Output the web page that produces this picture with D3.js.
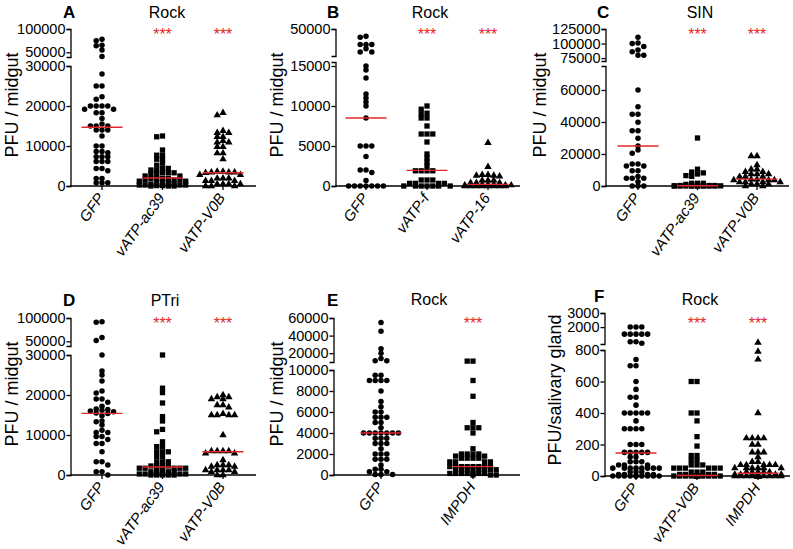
<!DOCTYPE html>
<html><head><meta charset="utf-8">
<script src="https://cdn.jsdelivr.net/npm/d3@7"></script>
<style>
body{margin:0;background:#fff}
svg{display:block}
text{font-family:"Liberation Sans",Arial,Helvetica,sans-serif;fill:#000}
</style>
</head><body>
<svg id="chart" width="793" height="549"></svg>
<script>
// ---------------- DATA ----------------
// Panel A – Rock
const catsA = ["GFP", "vATP-ac39", "vATP-V0B"];
const aGFP = [78000,75000,65000,64000,55000,41000,28000,25000,25000,22300,21700,20000,20000,20000,20000,19200,19200,18300,18300,16900,15500,15000,15000,15000,14000,14000,14000,12500,10000,10000,8600,8600,8300,7300,7300,7300,6100,6100,6100,4400,4400,3800,1900,1900,800,800,800];
const aAc39 = [12500,12300,9000,7700,7700,6700,6700,5700,5200,4400,4400,4000,4000,3300,3300,3300,3000,3000,2500,2500,1900,1900,1900,1900,1500,1500,1500,1200,1200,800,800,800,500,500,250,250,250,250,100,100,0,0,0];
const aV0B = [18300,17700,13800,13300,13300,12300,12300,11300,10900,10900,9800,9800,8200,8200,6700,3600,3600,3400,3400,3400,3300,2800,2800,1900,1900,1900,1300,1300,1300,500,500,500,500,0,0,0];
const medA = [14700, 2000, 3300];
const ticksALow = [0, 10000, 20000, 30000];
const ticksAUp = [50000, 100000];

// Panel B – Rock
const catsB = ["GFP", "vATP-f", "vATP-16"];
const bGFP = [41000,40000,31000,31000,31000,26000,22000,22000,15000,14500,13500,11500,11000,10500,10000,8500,5000,5000,5000,3700,2000,2000,1700,700,0,0,0,0,0,0,0];
const bF = [10000,9600,9100,9000,8500,8500,7500,6500,6500,6500,5500,4000,3500,3000,2500,1900,1900,1900,1900,750,750,750,330,330,330,330,0,0,0,0,0,0,0];
const b16 = [5400,2400,1400,1400,1300,1300,1200,700,700,700,400,400,400,200,200,200,100,100,100,0,0,0,0,0,0,0,0];
const medB = [8500, 1950, 200];
const ticksBLow = [0, 5000, 10000, 15000];
const ticksBUp = [50000];

// Panel C – SIN
const catsC = ["GFP", "vATP-ac39", "vATP-V0B"];
const cGFP = [111000,101000,100000,95000,89000,86000,80000,80000,60000,49600,44800,44800,39800,34600,34600,29800,25000,22500,20400,13700,13700,12500,12500,9600,9600,6000,4800,4800,4800,2700,0,0,0];
const cAc39 = [30000,10500,8700,8200,7500,6500,6000,1700,1700,1700,1000,300,300,300,100,100,100,100,100,0,0,0,0,0,0,0,0];
const cV0B = [18700,18700,13100,10400,10400,8900,8900,7500,7500,7500,5800,5800,5800,4200,4200,3700,3700,3700,2500,2500,2500,2500,1250,1250,1250,0,0];
const medC = [25000, 200, 4300];
const ticksCLow = [0, 20000, 40000, 60000];
const ticksCUp = [75000, 100000, 125000];

// Panel D – PTri
const catsD = ["GFP", "vATP-ac39", "vATP-V0B"];
const dGFP = [92000,91000,58000,52000,30000,26000,25000,23500,21000,20500,19000,19000,18200,17200,16500,16400,16200,16000,15800,15500,15400,14800,13500,13300,12500,11200,10600,10600,9600,9600,8900,7900,7900,5800,3300,3300,2500,800,800,0];
const dAc39 = [30000,21700,20600,18000,14600,13500,11400,10800,8300,7100,7100,5800,5800,5800,4600,4600,3300,3300,3300,2250,2250,2250,2250,1700,1700,1700,1700,1700,1700,1700,800,800,800,800,800,250,250,250,250,250,250,0,0,0,0,0];
const dV0B = [20000,19500,19500,19000,19000,17500,17500,16900,15300,15000,15000,15000,15000,10000,6000,6000,6000,6000,5400,5400,3750,2500,2500,2500,2100,2100,1250,1250,1250,1250,800,800,0,0];
const medD = [15400, 2000, 5800];
const ticksDLow = [0, 10000, 20000, 30000];
const ticksDUp = [50000, 100000];

// Panel E – Rock
const catsE = ["GFP", "IMPDH"];
const eGFP = [55000,45000,25000,20000,14000,11500,11500,9500,9500,9000,9000,9000,9000,8000,7000,6500,6000,6000,5500,5500,5500,5000,5000,4500,4000,4000,4000,4000,4000,4000,4000,3500,3500,3500,3000,3000,3000,2500,2000,2000,2000,1500,1500,1500,950,550,550,300,300,50,50,50];
const eIMPDH = [11000,11000,9000,7500,5000,4500,4500,4500,4000,2500,2000,2000,2000,2000,1800,1800,1600,1600,1600,1600,1250,1250,1250,1250,800,800,800,800,800,800,800,800,500,500,500,500,500,500,500,500,150,150,150,150,150,150,150,0,0,0];
const medE = [4000, 800];
const ticksELow = [0, 2000, 4000, 6000, 8000, 10000];
const ticksEUp = [20000, 40000, 60000];

// Panel F – Rock (salivary gland)
const catsF = ["GFP", "vATP-V0B", "IMPDH"];
const fGFP = [2000,2000,2000,1500,1500,1500,1500,1500,960,960,850,740,700,700,600,550,500,500,450,400,400,400,400,400,350,300,300,300,300,200,200,200,150,150,150,150,150,120,120,90,90,90,70,70,70,50,50,50,50,50,50,50,50,25,25,25,10,10,10,10,0,0,0,0,0,0,0,0,0,0];
const fV0B = [600,600,400,400,350,250,190,130,130,100,100,70,70,70,50,50,50,50,50,50,25,25,25,10,10,10,10,0,0,0,0,0,0,0,0,0,0,0,0,0,0,0,0,0,0,0,0];
const fIMPDH = [900,790,740,400,240,240,240,240,200,200,150,150,150,120,90,90,70,70,70,70,70,50,50,50,50,50,50,25,25,25,25,25,10,10,10,10,10,10,0,0,0,0,0,0,0,0,0,0,0,0,0,0,0,0,0,0,0,0];
const medF = [146, 3, 17];
const ticksFLow = [0, 200, 400, 600, 800];
const ticksFUp = [2000, 3000];

// ---------------- LAYOUT ----------------
const RED = "#e3262b";
const panels = [
  {letter:"A", title:"Rock", ylabel:"PFU / midgut", cats:catsA, series:[aGFP,aAc39,aV0B], shapes:[0,1,2], med:medA, stars:[0,1,1],
   ax:70.5, x1:256, cr:[102,223], low:[0,30000], lowR:[186,66], up:[40000,100000], upR:[57,29], tl:ticksALow, tu:ticksAUp,
   titleX:167, top:0, titleY:18, letterX:63, letterY:18, labelX:18, labelY:105},
  {letter:"B", title:"Rock", ylabel:"PFU / midgut", cats:catsB, series:[bGFP,bF,b16], shapes:[0,1,2], med:medB, stars:[0,1,1],
   ax:335.5, x1:520, cr:[366,488], low:[0,15500], lowR:[186,62], up:[17000,50000], upR:[56,29], tl:ticksBLow, tu:ticksBUp,
   titleX:430, top:0, titleY:18, letterX:327, letterY:18, labelX:283, labelY:105},
  {letter:"C", title:"SIN", ylabel:"PFU / midgut", cats:catsC, series:[cGFP,cAc39,cV0B], shapes:[0,1,2], med:medC, stars:[0,1,1],
   ax:605.5, x1:789, cr:[638,757], low:[0,75000], lowR:[186,66], up:[70000,125000], upR:[61,29], tl:ticksCLow, tu:ticksCUp,
   titleX:700, top:0, titleY:18, letterX:597, letterY:18, labelX:546, labelY:105},
  {letter:"D", title:"PTri", ylabel:"PFU / midgut", cats:catsD, series:[dGFP,dAc39,dV0B], shapes:[0,1,2], med:medD, stars:[0,1,1],
   ax:70.5, x1:256, cr:[102,223], low:[0,30000], lowR:[186,66], up:[40000,100000], upR:[57,29], tl:ticksDLow, tu:ticksDUp,
   titleX:165, top:289, titleY:17, letterX:63, letterY:17, labelX:18, labelY:105},
  {letter:"E", title:"Rock", ylabel:"PFU / midgut", cats:catsE, series:[eGFP,eIMPDH], shapes:[0,1], med:medE, stars:[0,1],
   ax:333.5, x1:520, cr:[381,473], low:[0,10000], lowR:[186,81], up:[10000,60000], upR:[73,29], tl:ticksELow, tu:ticksEUp,
   titleX:429, top:289, titleY:16, letterX:327, letterY:17, labelX:283, labelY:105},
  {letter:"F", title:"Rock", ylabel:"PFU/salivary gland", cats:catsF, series:[fGFP,fV0B,fIMPDH], shapes:[0,1,2], med:medF, stars:[0,1,1],
   ax:604.5, x1:790, cr:[636,758], low:[0,800], lowR:[187,61], up:[800,3000], upR:[55,24], tl:ticksFLow, tu:ticksFUp,
   titleX:700, top:289, titleY:16, letterX:594, letterY:13, labelX:561, labelY:101}
];

const symbolTypes = [d3.symbolCircle, d3.symbolSquare, d3.symbolTriangle];
const symbolSizes = [24, 28, 24];

const svg = d3.select("#chart");

function swarm(values, yFn, cx, step, maxK, minDy) {
  const pts = values.map((v, i) => ({v, i, y: yFn(v)})).sort((a, b) => a.y - b.y);
  const order = [0];
  for (let k = 1; k <= maxK; k++) order.push(-k, k);
  const cols = new Map(order.map(k => [k, []]));
  pts.forEach(p => {
    let chosen = null;
    for (const k of order) {
      if (cols.get(k).every(y => Math.abs(y - p.y) >= minDy)) { chosen = k; break; }
    }
    if (chosen === null) {
      let best = -1;
      for (const k of order) {
        const d = d3.min(cols.get(k), y => Math.abs(y - p.y));
        if (d > best + 0.01) { best = d; chosen = k; }
      }
    }
    cols.get(chosen).push(p.y);
    p.x = cx + chosen * step;
  });
  return pts;
}

panels.forEach(P => {
  const g = svg.append("g").attr("transform", `translate(0,${P.top})`);
  const yLow = d3.scaleLinear().domain(P.low).range(P.lowR);
  const yUp = d3.scaleLinear().domain(P.up).range(P.upR);
  const yv = v => v > P.low[1] ? yUp(v) : yLow(v);
  const x = d3.scalePoint().domain(P.cats).range(P.cr);
  const base = P.lowR[0];

  // y axis segments
  const axLow = d3.axisLeft(yLow).tickValues(P.tl).tickSize(4).tickSizeOuter(4).tickPadding(1).tickFormat(d3.format("d"));
  const axUp = d3.axisLeft(yUp).tickValues(P.tu).tickSize(4).tickSizeOuter(4).tickPadding(1).tickFormat(d3.format("d"));
  [axLow, axUp].forEach(a => {
    const ga = g.append("g").attr("transform", `translate(${P.ax},0)`).call(a);
    ga.selectAll("path,line").attr("stroke", "#000").attr("stroke-width", 1.3);
    ga.selectAll("text").attr("font-size", 14.5).attr("fill", "#000")
      .attr("font-family", '"Liberation Sans",Arial,sans-serif');
  });

  // x axis
  const gx = g.append("g").attr("transform", `translate(0,${base})`);
  gx.append("line").attr("x1", P.ax).attr("x2", P.x1).attr("stroke", "#000").attr("stroke-width", 1.3);
  gx.selectAll("line.tk").data(P.cats).join("line").attr("class", "tk")
    .attr("x1", d => x(d)).attr("x2", d => x(d)).attr("y1", 0).attr("y2", 4)
    .attr("stroke", "#000").attr("stroke-width", 1.3);
  gx.selectAll("text.cat").data(P.cats).join("text").attr("class", "cat")
    .attr("transform", d => `translate(${x(d) + 3},${12}) rotate(-54)`)
    .attr("text-anchor", "end").attr("font-size", 15).attr("font-style", "italic").text(d => d);

  // points
  P.series.forEach((vals, si) => {
    const cat = P.cats[si];
    const pts = swarm(vals, yv, x(cat), 5.8, 4, 3.8);
    const sym = d3.symbol().type(symbolTypes[P.shapes[si]]).size(symbolSizes[P.shapes[si]]);
    g.append("g").selectAll("path").data(pts).join("path")
      .attr("d", sym).attr("transform", d => `translate(${d.x},${d.y})`).attr("fill", "#000");
  });

  // median lines
  g.append("g").selectAll("line").data(P.cats).join("line")
    .attr("x1", d => x(d) - 20.5).attr("x2", d => x(d) + 20.5)
    .attr("y1", (d, i) => yv(P.med[i])).attr("y2", (d, i) => yv(P.med[i]))
    .attr("stroke", RED).attr("stroke-width", 1.4);

  // significance stars
  g.append("g").selectAll("text").data(P.cats.filter((d, i) => P.stars[i])).join("text")
    .attr("x", d => x(d)).attr("y", 40).attr("text-anchor", "middle")
    .attr("font-size", 16).attr("fill", RED).style("fill", RED).text("***");

  // title & letter
  g.append("text").attr("x", P.titleX).attr("y", P.titleY).attr("text-anchor", "middle").attr("font-size", 16).text(P.title);
  g.append("text").attr("x", P.letterX).attr("y", P.letterY).attr("font-size", 17).attr("font-weight", "bold").text(P.letter);

  // y label
  g.append("text").attr("transform", `translate(${P.labelX},${P.labelY}) rotate(-90)`)
    .attr("text-anchor", "middle").attr("font-size", 18).text(P.ylabel);
});
</script>
</body></html>
